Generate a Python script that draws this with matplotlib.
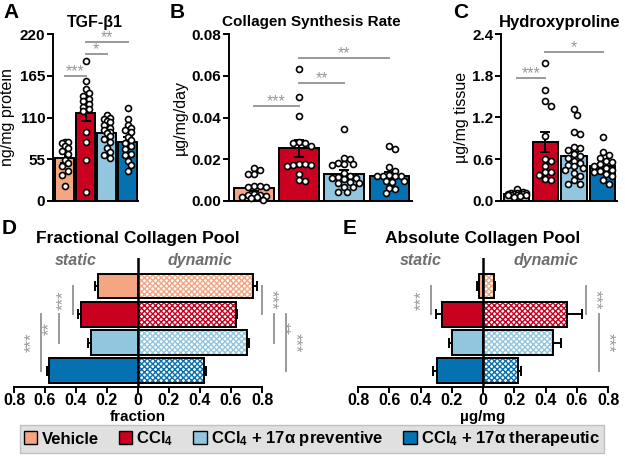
import numpy as np
import matplotlib
matplotlib.use('Agg')
from matplotlib import pyplot as plt
from matplotlib.patches import Patch

plt.rcParams['font.family'] = ['Liberation Sans', 'DejaVu Sans']
plt.rcParams['font.weight'] = 'bold'
plt.rcParams['mathtext.fontset'] = 'custom'
plt.rcParams['mathtext.rm'] = 'Liberation Sans:bold'
plt.rcParams['mathtext.default'] = 'rm'
plt.rcParams['hatch.linewidth'] = 1.0

# groups and colours
groups = ['Vehicle', 'CCl$_4$', 'CCl$_4$ + 17\u03b1 preventive', 'CCl$_4$ + 17\u03b1 therapeutic']
colors = ['#F4A582', '#CA0020', '#92C5DE', '#0571B0']

# A: TGF-b1 (ng/mg protein)
tgf_vehicle = [78, 78, 77, 72, 70, 66, 62, 54, 50, 46, 40, 34, 20]
tgf_ccl4 = [185, 158, 148, 142, 138, 135, 132, 128, 124, 121, 119, 91, 78, 54, 12]
tgf_prev = [113, 110, 108, 106, 104, 100, 96, 93, 91, 89, 86, 82, 78, 70, 64, 60, 56]
tgf_ther = [122, 108, 100, 96, 93, 91, 84, 80, 77, 72, 68, 62, 60, 53, 47, 40]
tgf_mean = [56, 116, 89, 78]
tgf_sem = [6, 10, 5, 6]
tgf_sig = [(0, 1, 165, '***'), (1, 2, 194, '*'), (1, 3, 209, '**')]

# B: collagen synthesis rate (ug/mg/day)
csr_vehicle = [0.016, 0.015, 0.013, 0.013, 0.007, 0.007, 0.0068, 0.0065,
               0.0035, 0.003, 0.0028, 0.0025, 0.002, 0.0018, 0.0012, 0.0005]
csr_ccl4 = [0.063, 0.050, 0.0407, 0.0285, 0.028, 0.0278, 0.0264, 0.0178,
            0.0175, 0.0174, 0.0172, 0.017, 0.0131, 0.010, 0.0098]
csr_prev = [0.0343, 0.0208, 0.0203, 0.0184, 0.0178, 0.0176, 0.0172, 0.0135,
            0.012, 0.0115, 0.011, 0.011, 0.0105, 0.009, 0.0088, 0.0085,
            0.0068, 0.0065, 0.0045, 0.0042]
csr_ther = [0.0263, 0.0248, 0.0163, 0.0143, 0.0125, 0.0122, 0.012, 0.0119,
            0.0118, 0.0097, 0.0095, 0.0093, 0.0062, 0.0058, 0.0037]
csr_mean = [0.0060, 0.0252, 0.0131, 0.0122]
csr_sem = [0.0013, 0.0042, 0.0016, 0.0018]
csr_sig = [(0, 1, 0.0454, '***'), (1, 2, 0.0566, '**'), (1, 3, 0.0683, '**')]

# C: hydroxyproline (ug/mg tissue)
hyp_vehicle = [0.17, 0.13, 0.12, 0.115, 0.11, 0.105, 0.10, 0.10, 0.095,
               0.09, 0.09, 0.085, 0.08, 0.07, 0.06]
hyp_ccl4 = [1.98, 1.59, 1.44, 1.37, 0.93, 0.60, 0.58, 0.51, 0.42, 0.41,
            0.37, 0.31, 0.30]
hyp_prev = [1.32, 1.24, 0.99, 0.97, 0.77, 0.76, 0.74, 0.68, 0.64, 0.62,
            0.58, 0.55, 0.52, 0.50, 0.47, 0.44, 0.40, 0.36, 0.30, 0.25, 0.24]
hyp_ther = [0.92, 0.70, 0.66, 0.62, 0.58, 0.56, 0.53, 0.50, 0.47, 0.45,
            0.43, 0.41, 0.39, 0.36, 0.30, 0.24]
hyp_mean = [0.10, 0.85, 0.64, 0.50]
hyp_sem = [0.01, 0.14, 0.07, 0.04]
hyp_sig = [(0, 1, 1.77, '***'), (1, 3, 2.14, '*')]

# D: fractional collagen pool
frac_static = [0.26, 0.37, 0.305, 0.575]
frac_static_err = [0.017, 0.02, 0.015, 0.01]
frac_dynamic = [0.745, 0.63, 0.70, 0.425]
frac_dynamic_err = [0.02, 0.01, 0.018, 0.013]
frac_sig_left = [(0, 1, -0.42, '***'), (1, 2, -0.51, '**'), (1, 3, -0.626, '***')]
frac_sig_right = [(0, 1, 0.80, '***'), (1, 2, 0.877, '**'), (1, 3, 0.955, '***')]

# E: absolute collagen pool (ug/mg)
abs_static = [0.028, 0.262, 0.196, 0.292]
abs_static_err = [0.01, 0.04, 0.022, 0.028]
abs_dynamic = [0.069, 0.54, 0.449, 0.224]
abs_dynamic_err = [0.008, 0.095, 0.05, 0.016]
abs_sig_left = [(0, 1, -0.335, '***')]
abs_sig_right = [(0, 1, 0.658, '***'), (1, 3, 0.742, '***')]

W, H = 625, 457
SIG = '#999999'
BAR_W = 0.88
fig = plt.figure(figsize=(W / 100, H / 100), dpi=100)


def px_axes(left, top, right, bottom):
    return fig.add_axes([left / W, 1 - bottom / H, (right - left) / W, (bottom - top) / H])


def swarm(ax, xc, vals, diam=6.0):
    """beeswarm placement in pixel space, kept inside the bar"""
    tr = ax.transData
    inv = tr.inverted()
    x0 = tr.transform((xc, 0))[0]
    half = tr.transform((xc + BAR_W / 2, 0))[0] - x0 - diam * 0.55
    ys = tr.transform(np.column_stack([np.full(len(vals), xc), vals]))[:, 1]
    cands = [0.0]
    step = diam * 0.5
    i = 1
    while i * step <= half:
        cands += [i * step, -i * step]
        i += 1
    placed = []
    out = []
    for y in ys:
        best, best_d = 0.0, -1
        for dx in cands:
            d = min([np.hypot(dx - px, y - py) for px, py in placed] or [99])
            if d >= diam:
                best = dx
                break
            if d > best_d:
                best, best_d = dx, d
        placed.append((best, y))
        out.append(inv.transform((x0 + best, y))[0])
    return out


def dot_panel(ax, points, means, sems, sigs, ylim, yticks, fmt, ylabel, lab_x):
    x = np.arange(4)
    ax.set_xlim(-0.55, 3.5)
    ax.set_ylim(*ylim)
    ax.bar(x, means, width=BAR_W, color=colors, edgecolor='k', lw=1.4, zorder=2)
    ax.errorbar(x, means, yerr=sems, fmt='none', ecolor='k', elinewidth=1.4,
                capsize=3.5, capthick=1.4, zorder=4)
    for i, vals in enumerate(points):
        xs = swarm(ax, i, vals)
        ax.plot(xs, vals, 'o', ms=4.3, mfc='white', mec='k', mew=1.2,
                ls='none', zorder=5, clip_on=False)
    for a, b, y, s in sigs:
        ax.plot([a, b], [y, y], color=SIG, lw=1.4, clip_on=False)
        ax.text((a + b) / 2, y, s, color=SIG, ha='center', va='baseline',
                fontsize=11.5, fontweight='normal')
    for sp in ['top', 'right']:
        ax.spines[sp].set_visible(False)
    for sp in ['left', 'bottom']:
        ax.spines[sp].set_linewidth(1.4)
    ax.set_xticks([])
    ax.set_yticks(yticks)
    ax.set_yticklabels([fmt.format(t) for t in yticks])
    ax.tick_params(axis='y', length=4, width=1.4, labelsize=11, pad=1.5)
    ax.set_ylabel(ylabel, fontsize=11.5)
    ax.yaxis.set_label_coords(lab_x, 0.5)


# ---- A ----
axA = px_axes(53, 34, 138, 201)
dot_panel(axA, [tgf_vehicle, tgf_ccl4, tgf_prev, tgf_ther], tgf_mean, tgf_sem, tgf_sig,
          (0, 220), [0, 55, 110, 165, 220], '{:.0f}', 'ng/mg protein', -0.45)

# ---- B ----
axB = px_axes(229, 34, 412, 201)
dot_panel(axB, [csr_vehicle, csr_ccl4, csr_prev, csr_ther], csr_mean, csr_sem, csr_sig,
          (0, 0.08), [0, 0.02, 0.04, 0.06, 0.08], '{:.2f}', '\u00b5g/mg/day', -0.224)

# ---- C ----
axC = px_axes(501, 34, 617, 201)
dot_panel(axC, [hyp_vehicle, hyp_ccl4, hyp_prev, hyp_ther], hyp_mean, hyp_sem, hyp_sig,
          (0, 2.4), [0, 0.6, 1.2, 1.8, 2.4], '{:.1f}', '\u00b5g/mg tissue', -0.28)


def pool_panel(ax, static, static_err, dynamic, dynamic_err, sig_l, sig_r, title, xlabel):
    y = np.arange(4)
    ax.set_xlim(-0.8, 0.8)
    ax.set_ylim(3.57, -0.99)
    st = -np.array(static)
    ax.barh(y, st, height=0.88, color=colors, edgecolor='k', lw=1.4, zorder=2)
    ax.barh(y, dynamic, height=0.88, color='white', edgecolor=colors, lw=0,
            hatch='xxxxxx', zorder=2)
    ax.barh(y, dynamic, height=0.88, fill=False, edgecolor='k', lw=1.4, zorder=3)
    ax.errorbar(st, y, xerr=[static_err, np.zeros(4)], fmt='none', ecolor='k',
                elinewidth=1.4, capsize=3.5, capthick=1.4, zorder=4)
    ax.errorbar(dynamic, y, xerr=[np.zeros(4), dynamic_err], fmt='none', ecolor='k',
                elinewidth=1.4, capsize=3.5, capthick=1.4, zorder=4)
    ax.axvline(0, color='k', lw=1.8, zorder=5)
    for a, b, x, s in sig_l:
        ax.plot([x, x], [a, b], color=SIG, lw=1.4, clip_on=False)
        ax.text(x - 0.012, (a + b) / 2, s, color=SIG, rotation=90, ha='right',
                va='center', fontsize=12, fontweight='normal')
    for a, b, x, s in sig_r:
        ax.plot([x, x], [a, b], color=SIG, lw=1.4, clip_on=False)
        ax.text(x + 0.012, (a + b) / 2, s, color=SIG, rotation=270, ha='left',
                va='center', fontsize=12, fontweight='normal', clip_on=False)
    for sp in ['top', 'right', 'left']:
        ax.spines[sp].set_visible(False)
    ax.spines['bottom'].set_linewidth(1.4)
    ax.set_yticks([])
    ticks = np.round(np.arange(-0.8, 0.81, 0.2), 1)
    ax.set_xticks(ticks)
    ax.set_xticklabels(['0' if t == 0 else '{:.1f}'.format(abs(t)) for t in ticks])
    ax.tick_params(axis='x', length=4, width=1.4, labelsize=11.5, pad=0.5)
    ax.text(0.5, -0.235, xlabel, transform=ax.transAxes, ha='center', va='center',
            fontsize=11)
    ax.text(0.5, 1.15, title, transform=ax.transAxes, ha='center', va='center',
            fontsize=12.5)
    ax.text(-0.4, -0.9, 'static', style='italic', color='#6e6e6e', ha='center',
            va='center', fontsize=11.5)
    ax.text(0.4, -0.9, 'dynamic', style='italic', color='#6e6e6e', ha='center',
            va='center', fontsize=11.5)


# ---- D ----
axD = px_axes(14, 258, 262, 387)
pool_panel(axD, frac_static, frac_static_err, frac_dynamic, frac_dynamic_err,
           frac_sig_left, frac_sig_right, 'Fractional Collagen Pool', 'fraction')

# ---- E ----
axE = px_axes(358, 258, 608, 387)
pool_panel(axE, abs_static, abs_static_err, abs_dynamic, abs_dynamic_err,
           abs_sig_left, abs_sig_right, 'Absolute Collagen Pool', '\u00b5g/mg')

# titles and panel letters
fig.text(95 / W, 1 - 22 / H, 'TGF-\u03b21', ha='center', va='center', fontsize=11.5)
fig.text(311 / W, 1 - 22 / H, 'Collagen Synthesis Rate', ha='center', va='center', fontsize=11)
fig.text(560 / W, 1 - 22 / H, 'Hydroxyproline', ha='center', va='center', fontsize=12)
for letter, x, y in [('A', 3, 12), ('B', 170, 12), ('C', 453, 12), ('D', 2, 228), ('E', 343, 228)]:
    fig.text(x / W, 1 - y / H, letter, ha='left', va='center', fontsize=15)

# legend
handles = [Patch(facecolor=c, edgecolor='k', lw=1) for c in colors]
fig.legend(handles, groups, loc='center', bbox_to_anchor=(312 / W, 1 - 439 / H), ncol=4,
           frameon=True, fancybox=False, facecolor='#d9d9d9', edgecolor='#b5b5b5',
           fontsize=12, handlelength=0.8, handleheight=0.8, handletextpad=0.25,
           columnspacing=1.2, borderpad=0.25)

fig.savefig('out.png', dpi=100)
